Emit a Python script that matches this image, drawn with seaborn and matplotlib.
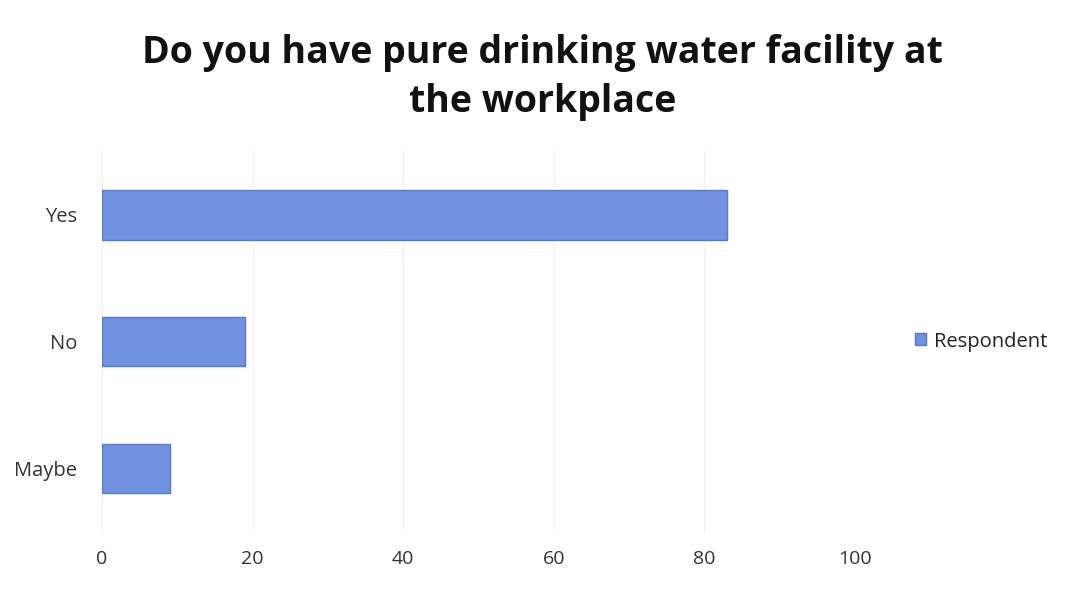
import matplotlib
matplotlib.use("Agg")
import matplotlib.pyplot as plt
import seaborn as sns
import pandas as pd

categories = ["Yes", "No", "Maybe"]
respondents = [83, 19, 9]
x_ticks = [0, 20, 40, 60, 80, 100]
title = "Do you have pure drinking water facility at\nthe workplace"
series_name = "Respondent"

sns.set_theme(style="white")
plt.rcParams['font.family'] = ['Open Sans', 'DejaVu Sans']

df = pd.DataFrame({"Answer": categories, "Count": respondents, "Series": series_name})

fig = plt.figure(figsize=(10.85, 5.94), dpi=100)
ax = fig.add_axes([0.094, 0.105, 0.694, 0.64])

sns.barplot(data=df, x="Count", y="Answer", hue="Series", orient="h",
            palette=["#7092e0"], saturation=1, width=0.39, edgecolor="#5a78cc",
            linewidth=1.0, ax=ax, legend=True)

ax.set_xlim(0, 100)
ax.set_xticks(x_ticks)
ax.set_xticklabels([str(t) for t in x_ticks], fontsize=14, color="#333333")
ax.tick_params(axis="y", labelsize=14.5, colors="#333333", length=0, pad=18)
ax.tick_params(axis="x", length=0, pad=13)
ax.set_xlabel("")
ax.set_ylabel("")
for s in ax.spines.values():
    s.set_visible(False)
ax.grid(axis="x", color="#f0f0f0", linewidth=0.8)
ax.set_axisbelow(True)

leg = ax.legend(loc="center left", bbox_to_anchor=(1.055, 0.5), frameon=False,
                fontsize=14.5, handlelength=0.55, handleheight=0.55, handletextpad=0.4)
for t in leg.get_texts():
    t.set_color("#222222")

fig.text(0.5, 0.87, title, ha="center", va="center", fontsize=27,
         fontweight="bold", color="#111111", linespacing=1.38)

fig.savefig("out.png", dpi=100)
